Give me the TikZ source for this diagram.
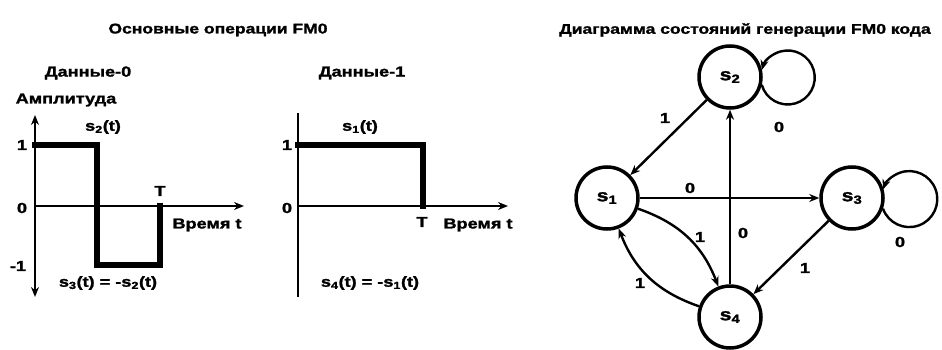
\documentclass[tikz,border=0pt]{standalone}
\usepackage{fontspec}
\setmainfont{Liberation Sans}[FakeStretch=1.25, BoldFeatures={FakeStretch=1.25, FakeBold=1.6}]
\usetikzlibrary{arrows.meta}
\begin{document}
\begin{tikzpicture}[x=1pt,y=1pt,
  font=\bfseries\fontsize{14.5}{16}\selectfont,
  sig/.style={line width=5.5pt, line join=miter, line cap=rect},
  axis/.style={line width=2.8pt},
  tip/.style={-{Stealth[length=10pt,width=8pt]}},
  st/.style={circle, draw, line width=3.5pt, minimum size=62pt, inner sep=0pt,
             font=\bfseries\fontsize{17}{18}\selectfont},
  tr/.style={line width=2.4pt, -{Stealth[length=10pt,width=8pt]}},
  lbl/.style={inner sep=1pt},
  ttl/.style={inner sep=1pt, font=\bfseries\fontsize{14}{16}\selectfont}]
\useasboundingbox (0,0) rectangle (942,349);

% ---------- left titles ----------
\node[ttl] (t1) at (218,319) {Основные операции FM0};
\node[lbl] (d0) at (88,276) {Данные-0};
\node[lbl] (d1) at (362,276) {Данные-1};
\node[lbl] (amp) at (66,249) {Амплитуда};

% ---------- plot Data-0 ----------
\coordinate (ya0) at (35,52);
\coordinate (yb0) at (35,234);
\coordinate (xa0) at (35,143);
\coordinate (xb0) at (244,143);
\draw[axis, {Stealth[length=10pt,width=8pt]}-{Stealth[length=10pt,width=8pt]}] (ya0) -- (yb0);
\draw[axis, tip] (xa0) -- (xb0);
\coordinate (p0) at (35,204);
\coordinate (p1) at (97,204);
\coordinate (p2) at (97,84);
\coordinate (p3) at (160,84);
\coordinate (p4) at (160,143);
\draw[sig] (p0) -- (p1) -- (p2) -- (p3) -- (p4);
\node[lbl] (one0) at (22,204) {1};
\node[lbl] (zero0) at (22,141) {0};
\node[lbl] (mone0) at (18,83) {-1};
\node[lbl] (s2t) at (103,222) {s\textsubscript{2}(t)};
\node[lbl] (T0) at (160,158) {T};
\node[lbl] (time0) at (207,124) {Время t};
\node[lbl] (s3t) at (108,66) {s\textsubscript{3}(t) = -s\textsubscript{2}(t)};

% ---------- plot Data-1 ----------
\coordinate (ya1) at (298,52);
\coordinate (yb1) at (298,236);
\coordinate (xa1) at (298,143);
\coordinate (xb1) at (508,143);
\draw[axis] (ya1) -- (yb1);
\draw[axis, tip] (xa1) -- (xb1);
\coordinate (q0) at (298,204);
\coordinate (q1) at (423,204);
\coordinate (q2) at (423,143);
\draw[sig] (q0) -- (q1) -- (q2);
\node[lbl] (one1) at (287,204) {1};
\node[lbl] (zero1) at (287,141) {0};
\node[lbl] (s1t) at (360,222) {s\textsubscript{1}(t)};
\node[lbl] (T1) at (422,127) {T};
\node[lbl] (time1) at (478,124) {Время t};
\node[lbl] (s4t) at (370,66) {s\textsubscript{4}(t) = -s\textsubscript{1}(t)};

% ---------- state diagram ----------
\node[ttl] (t2) at (745,319) {Диаграмма состояний генерации FM0 кода};
\node[st] (s2) at (730,272) {s\textsubscript{2}};
\node[st] (s1) at (607,151) {s\textsubscript{1}};
\node[st] (s3) at (852,151) {s\textsubscript{3}};
\node[st] (s4) at (730,32) {s\textsubscript{4}};

\draw[tr] (s2) -- (s1);
\draw[tr] (s4) -- (s2);
\draw[tr] (s1) -- (s3);
\draw[tr] (s3) -- (s4);
\draw[tr] (s1) to[bend left=25] (s4);
\draw[tr] (s4) to[bend left=25] (s1);
\draw[tr] (s2.-14) arc[start angle=-164, end angle=164, radius=27];
\draw[tr] (s3.-19) arc[start angle=-160, end angle=160, radius=28];

\node[lbl] (e21) at (665,231) {1};
\node[lbl] (e42) at (743,116) {0};
\node[lbl] (e13) at (690,161) {0};
\node[lbl] (e14) at (700,112) {1};
\node[lbl] (e41) at (640,66) {1};
\node[lbl] (e34) at (805,81) {1};
\node[lbl] (e33) at (900,107) {0};
\node[lbl] (e22) at (779,222) {0};
\end{tikzpicture}
\end{document}
